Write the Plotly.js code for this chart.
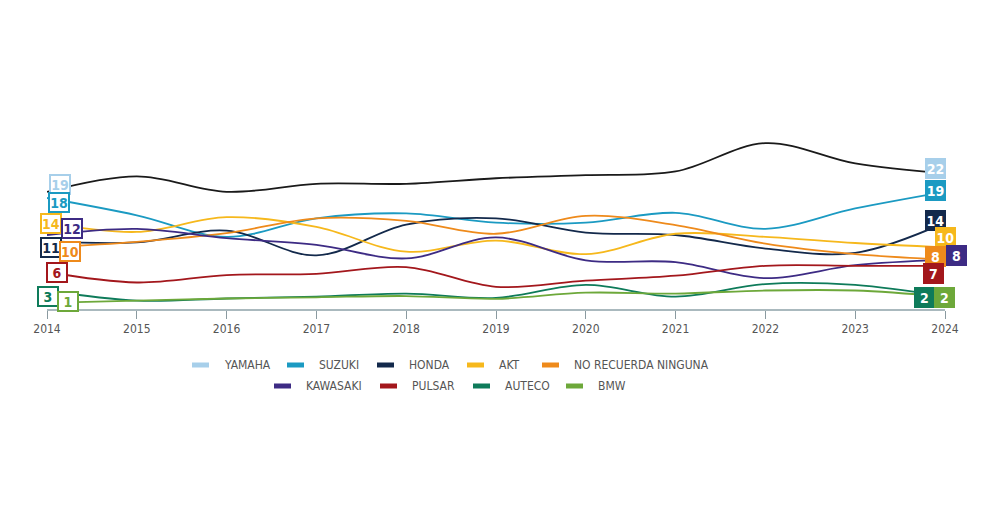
<!DOCTYPE html>
<html>
<head>
<meta charset="utf-8">
<script src="https://cdn.plot.ly/plotly-3.0.1.min.js"></script>
<style>html,body{margin:0;padding:0;background:#fff;}#chart{width:1000px;height:530px;}</style>
</head>
<body>
<div id="chart"></div>
<script>
// ---- DATA ----
const years = [2014, 2015, 2016, 2017, 2018, 2019, 2020, 2021, 2022, 2023, 2024];
const seriesNames = ["YAMAHA", "SUZUKI", "HONDA", "AKT", "NO RECUERDA NINGUNA", "KAWASAKI", "PULSAR", "AUTECO", "BMW"];
const yamaha   = [19, 21.5, 19.0, 20.3, 20.3, 21.2, 21.7, 22.3, 26.9, 23.6, 22];
const suzuki   = [18, 15.2, 11.7, 14.7, 15.5, 14.0, 14.0, 15.6, 13.0, 16.3, 19];
const honda    = [11, 10.8, 12.7, 8.7, 13.7, 14.7, 12.4, 12.0, 9.8, 9.1, 14];
const akt      = [14, 12.5, 14.9, 13.3, 9.3, 11.1, 8.9, 12.2, 11.7, 10.7, 10];
const noRecuerda = [10, 10.9, 12.3, 14.7, 14.3, 12.2, 15.1, 13.6, 10.6, 8.9, 8];
const kawasaki = [12, 13.0, 11.5, 10.4, 8.2, 11.6, 7.9, 7.6, 5.0, 7.1, 8];
const pulsar   = [6, 4.3, 5.5, 5.7, 6.8, 3.6, 4.6, 5.4, 7.0, 7.0, 7];
const auteco   = [3, 1.35, 1.7, 2.0, 2.5, 1.8, 3.9, 2.0, 4.05, 3.9, 2];
const bmw      = [1, 1.35, 1.7, 1.9, 2.1, 1.65, 2.65, 2.5, 3.0, 3.0, 2];
const xTickLabels = ["2014","2015","2016","2017","2018","2019","2020","2021","2022","2023","2024"];

// ---- STYLE ----
const allValues = [yamaha, suzuki, honda, akt, noRecuerda, kawasaki, pulsar, auteco, bmw];
const legendColors = ["#a7cfea", "#1b9ac2", "#13294b", "#f6b81c", "#ee8a1b", "#3d2b84", "#a3171c", "#0e7b5a", "#6da83a"];
const lineColors   = ["#1a1a1a", "#1b9ac2", "#13294b", "#f6b81c", "#ee8a1b", "#3d2b84", "#a3171c", "#0e7b5a", "#6da83a"];
const FONT = "Liberation Sans Narrow, DejaVu Sans Condensed, Roboto, sans-serif";

const L = 47, R = 945, T = 124, B = 309;
const px2x = p => (p - L) / (R - L);
const px2y = p => (B - p) / (B - T);

// label box centres (pixels) for start / end values, in series order
const leftPos  = [[60,184],[59,202],[51,247],[51,223],[70,251],[72,228],[57,272],[48,296],[68,301]];
const rightPos = [[935,168],[935,190],[935,220],[945,237],[935,256],[956,255],[933,273],[924,297],[944,297]];
// drawing order for overlap (indices into series)
const leftOrder  = [0,1,3,5,2,4,6,7,8];
const rightOrder = [0,1,2,3,4,5,6,7,8];

const traces = allValues.map((vals, i) => ({
  x: years, y: vals, type: "scatter", mode: "lines", name: seriesNames[i],
  line: {shape: "spline", smoothing: 1, color: lineColors[i], width: 1.8},
  showlegend: false, hoverinfo: "x+y+name"
}));

const annotations = [];
const shapes = [];
leftOrder.forEach(i => {
  annotations.push({
    xref: "paper", yref: "paper", x: px2x(leftPos[i][0]), y: px2y(leftPos[i][1]),
    xanchor: "center", yanchor: "middle", showarrow: false,
    text: "<b>" + allValues[i][0] + "</b>",
    font: {family: FONT, size: 14, color: legendColors[i]},
    bgcolor: "#ffffff", bordercolor: legendColors[i], borderwidth: 2, borderpad: 0,
    width: 18, height: 17
  });
});
rightOrder.forEach(i => {
  annotations.push({
    xref: "paper", yref: "paper", x: px2x(rightPos[i][0]), y: px2y(rightPos[i][1]),
    xanchor: "center", yanchor: "middle", showarrow: false,
    text: "<b>" + allValues[i][allValues[i].length - 1] + "</b>",
    font: {family: FONT, size: 14, color: "#ffffff"},
    bgcolor: legendColors[i], bordercolor: legendColors[i], borderwidth: 1, borderpad: 0,
    width: 19, height: 19
  });
});

// manual legend (two centred rows)
const legendRows = [
  {y: 365, items: [[0,192],[1,287],[2,377],[3,467],[4,542]]},
  {y: 386, items: [[5,274],[6,380],[7,473],[8,566]]}
];
legendRows.forEach(row => {
  row.items.forEach(([i, sx]) => {
    shapes.push({type: "line", xref: "paper", yref: "paper",
      x0: px2x(sx), x1: px2x(sx + 17), y0: px2y(row.y), y1: px2y(row.y),
      line: {color: legendColors[i], width: 5}});
    annotations.push({xref: "paper", yref: "paper", x: px2x(sx + 30), y: px2y(row.y),
      xanchor: "left", yanchor: "middle", showarrow: false, text: seriesNames[i],
      font: {family: FONT, size: 12, color: "#555555"}});
  });
});

const layout = {
  width: 1000, height: 530,
  margin: {l: L, r: 1000 - R, t: T, b: 530 - B},
  paper_bgcolor: "#ffffff", plot_bgcolor: "#ffffff",
  showlegend: false,
  font: {family: FONT, color: "#555555"},
  xaxis: {
    range: [2014, 2024], tickvals: years, ticktext: xTickLabels,
    showgrid: false, zeroline: false, showline: true, linecolor: "#aab9be", linewidth: 1.5,
    ticks: "outside", ticklen: 8, tickwidth: 1, tickcolor: "#8a9aa0",
    tickfont: {family: FONT, size: 12, color: "#555555"}, fixedrange: true
  },
  yaxis: {range: [0, 30], visible: false, showgrid: false, zeroline: false, fixedrange: true},
  annotations: annotations, shapes: shapes
};

Plotly.newPlot("chart", traces, layout, {displayModeBar: false, staticPlot: true});
</script>
</body>
</html>
